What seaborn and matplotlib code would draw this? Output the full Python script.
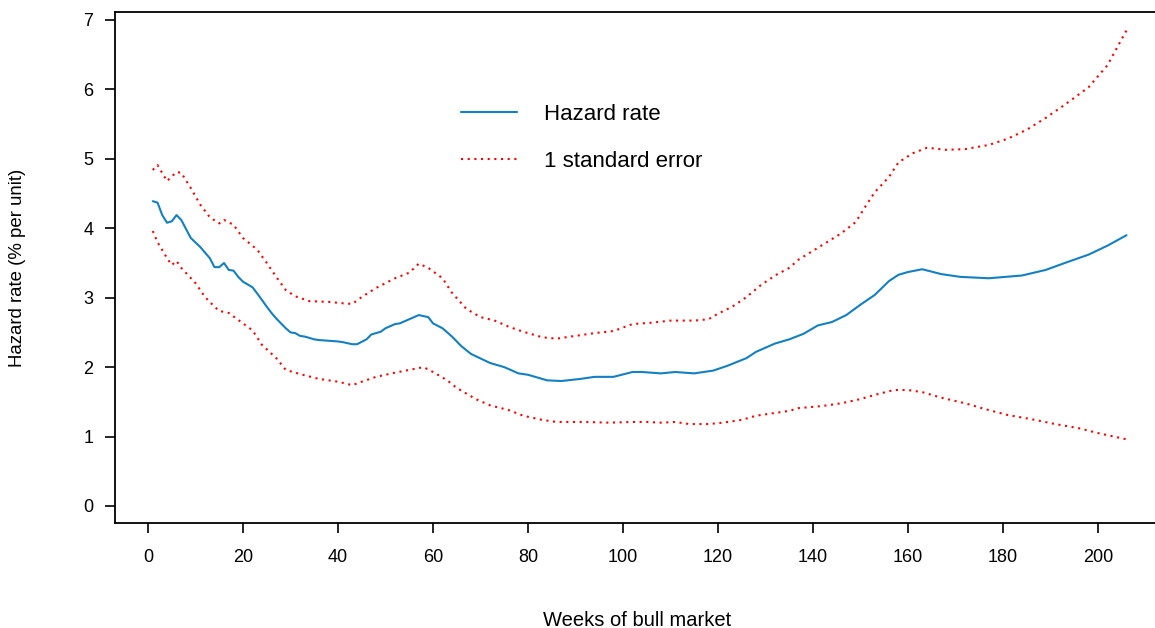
import pandas as pd
import seaborn as sns
import matplotlib.pyplot as plt

# hazard rate
hz_weeks = [1, 2, 3, 4, 5, 6, 7, 9, 11, 13, 14, 15, 16, 17, 18, 19, 20, 22, 23, 25, 26, 27,
            29, 30, 31, 32, 33, 35, 36, 38, 40, 41, 43, 44, 46, 47, 49, 50, 52, 53, 55, 57,
            59, 60, 62, 64, 66, 68, 72, 75, 78, 80, 84, 87, 91, 94, 98, 102, 104, 108, 111,
            115, 119, 122, 126, 128, 132, 135, 138, 141, 144, 147, 150, 153, 156, 158, 160,
            163, 167, 171, 177, 184, 189, 193, 198, 202, 206]
hz_rate = [4.39, 4.37, 4.19, 4.08, 4.10, 4.19, 4.12, 3.86, 3.73, 3.57, 3.44, 3.44, 3.50, 3.40,
           3.39, 3.30, 3.23, 3.15, 3.06, 2.87, 2.78, 2.70, 2.56, 2.50, 2.49, 2.45, 2.44, 2.40,
           2.39, 2.38, 2.37, 2.36, 2.33, 2.33, 2.40, 2.47, 2.51, 2.56, 2.62, 2.63, 2.69, 2.75,
           2.72, 2.63, 2.56, 2.44, 2.30, 2.19, 2.06, 2.00, 1.91, 1.89, 1.81, 1.80, 1.83, 1.86,
           1.86, 1.93, 1.93, 1.91, 1.93, 1.91, 1.95, 2.02, 2.13, 2.22, 2.34, 2.40, 2.48, 2.60,
           2.65, 2.75, 2.90, 3.04, 3.24, 3.33, 3.37, 3.41, 3.34, 3.30, 3.28, 3.32, 3.40, 3.50,
           3.62, 3.75, 3.90]

# +/- 1 standard error bands
up_weeks = [1, 2, 4, 6, 7, 9, 11, 13, 15, 16, 18, 20, 23, 25, 27, 29, 31, 34, 38, 41, 43, 45,
            48, 52, 55, 57, 59, 62, 64, 67, 70, 73, 76, 79, 83, 86, 90, 94, 98, 102, 106, 110,
            115, 118, 120, 123, 126, 129, 132, 135, 137, 142, 146, 149, 151, 153, 156, 158, 161,
            164, 168, 172, 177, 181, 185, 189, 193, 198, 202, 206]
up_se = [4.84, 4.91, 4.68, 4.81, 4.80, 4.58, 4.34, 4.16, 4.07, 4.12, 4.05, 3.86, 3.69, 3.50,
         3.30, 3.11, 3.02, 2.95, 2.94, 2.92, 2.91, 3.01, 3.14, 3.28, 3.36, 3.49, 3.43, 3.28,
         3.07, 2.84, 2.72, 2.67, 2.58, 2.51, 2.43, 2.41, 2.45, 2.49, 2.52, 2.62, 2.64, 2.67,
         2.67, 2.69, 2.77, 2.87, 3.01, 3.18, 3.32, 3.43, 3.55, 3.76, 3.93, 4.09, 4.31, 4.52,
         4.74, 4.95, 5.08, 5.16, 5.13, 5.14, 5.20, 5.29, 5.42, 5.59, 5.78, 6.03, 6.35, 6.85]

lo_weeks = [1, 2, 4, 5, 6, 7, 10, 12, 14, 15, 17, 19, 22, 24, 27, 29, 32, 36, 40, 43, 45, 48,
            52, 55, 58, 60, 63, 65, 69, 72, 76, 79, 83, 86, 92, 97, 102, 105, 108, 111, 114,
            118, 121, 125, 128, 132, 135, 137, 142, 146, 150, 153, 157, 160, 163, 167, 172,
            176, 181, 186, 191, 196, 200, 206]
lo_se = [3.96, 3.80, 3.57, 3.47, 3.53, 3.43, 3.21, 3.01, 2.87, 2.81, 2.78, 2.68, 2.53, 2.32,
         2.13, 1.96, 1.90, 1.83, 1.79, 1.74, 1.79, 1.86, 1.92, 1.96, 2.00, 1.93, 1.81, 1.70,
         1.54, 1.45, 1.38, 1.30, 1.24, 1.21, 1.21, 1.20, 1.21, 1.21, 1.20, 1.21, 1.18, 1.18,
         1.20, 1.24, 1.30, 1.34, 1.37, 1.41, 1.44, 1.48, 1.54, 1.60, 1.67, 1.67, 1.64, 1.56,
         1.48, 1.40, 1.31, 1.25, 1.18, 1.12, 1.05, 0.96]

x_ticks = [0, 20, 40, 60, 80, 100, 120, 140, 160, 180, 200]
y_ticks = [0, 1, 2, 3, 4, 5, 6, 7]

hz_df = pd.DataFrame({'week': hz_weeks, 'rate': hz_rate})
up_df = pd.DataFrame({'week': up_weeks, 'rate': up_se})
lo_df = pd.DataFrame({'week': lo_weeks, 'rate': lo_se})

sns.set_theme(style='ticks')
plt.rcParams['font.family'] = ['Liberation Sans', 'DejaVu Sans']
plt.rcParams['text.color'] = 'black'
plt.rcParams['axes.labelcolor'] = 'black'

W, H = 1155, 628
fig = plt.figure(figsize=(W / 100, H / 100), dpi=100)
ax = fig.add_axes([115 / W, (H - 523) / H, 1045 / W, 511 / H])

blue = '#1380C3'
dots = (0, (1, 2.2))
sns.lineplot(data=hz_df, x='week', y='rate', color=blue, lw=1.5, ax=ax, label='Hazard rate')
sns.lineplot(data=up_df, x='week', y='rate', color='red', lw=1.5, ls=dots, ax=ax,
             label='1 standard error')
sns.lineplot(data=lo_df, x='week', y='rate', color='red', lw=1.5, ls=dots, ax=ax, label='_nolegend_')

ax.set_xlim(-6.95, 213.05)
ax.set_ylim(-0.245, 7.115)
ax.set_xticks(x_ticks)
ax.set_yticks(y_ticks)
ax.tick_params(axis='both', length=7.5, width=1.2, color='black', labelsize=13,
               labelcolor='black')
ax.tick_params(axis='x', pad=11)
ax.tick_params(axis='y', pad=8)
for s in ['left', 'top', 'bottom']:
    ax.spines[s].set_color('black')
    ax.spines[s].set_linewidth(1.3)
ax.spines['right'].set_visible(False)

ax.set_xlabel('Weeks of bull market', fontsize=14.5, va='center')
ax.xaxis.set_label_coords(0.5, -(620 - 523) / 511)
ax.set_ylabel('Hazard rate (% per unit)', fontsize=13.4, va='center')
ax.yaxis.set_label_coords(-(115 - 18) / 1045, (523 - 268) / 511)

ax.legend(loc='upper left', bbox_to_anchor=(461 / W, 1 - 104 / H),
          bbox_transform=fig.transFigure, frameon=False, fontsize=16,
          handlelength=2.5, handletextpad=1.25, labelspacing=1.15, borderpad=0,
          borderaxespad=0)

fig.savefig('out.png', dpi=100)
